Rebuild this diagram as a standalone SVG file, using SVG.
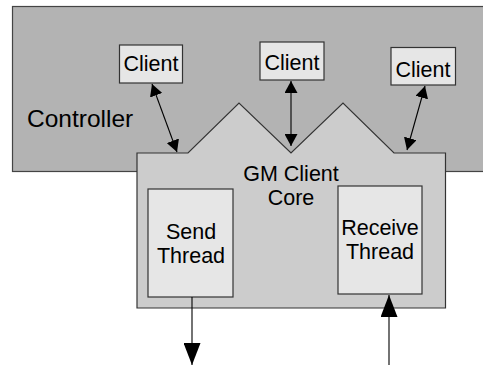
<svg xmlns="http://www.w3.org/2000/svg" width="483" height="365" viewBox="0 0 483 365">
  <style>
    .lbl { font-family: "Liberation Sans", Arial, sans-serif; fill: #000; font-size: 21.5px; }
    .mid { text-anchor: middle; }
    .box { fill: #e6e6e6; stroke: #333; stroke-width: 1.2; }
    .link { stroke: #000; stroke-width: 1.1; fill: none; }
  </style>
  <defs>
    <marker id="headSmall" viewBox="0 0 12 13" refX="12" refY="6.5" markerWidth="12" markerHeight="13" markerUnits="userSpaceOnUse" orient="auto-start-reverse">
      <path d="M0,0 L12,6.5 L0,13 z" fill="#000"/>
    </marker>
    <marker id="headLarge" viewBox="0 0 22 17" refX="22" refY="8.5" markerWidth="22" markerHeight="17" markerUnits="userSpaceOnUse" orient="auto">
      <path d="M0,0 L22,8.5 L0,17 z" fill="#000"/>
    </marker>
  </defs>

  <!-- Controller region -->
  <g id="controller">
    <rect x="12.5" y="6.5" width="480" height="165" fill="#b3b3b3" stroke="#444" stroke-width="1.2"/>
    <text class="lbl" x="27" y="127" style="font-size:24.5px">Controller</text>
  </g>

  <!-- GM Client Core with its two threads -->
  <g id="core">
    <polygon points="137,153 188,153 239,103 291,153 343,103 394,153 445.5,153 445.5,308 137,308" fill="#cccccc" stroke="#333" stroke-width="1.2"/>
    <text class="lbl mid" x="291" y="181">GM Client</text>
    <text class="lbl mid" x="291" y="205">Core</text>
  </g>

  <g id="send-thread">
    <rect class="box" x="148" y="189" width="85" height="108"/>
    <text class="lbl mid" x="191" y="239">Send</text>
    <text class="lbl mid" x="191" y="263">Thread</text>
  </g>

  <g id="receive-thread">
    <rect class="box" x="338" y="186" width="84" height="108"/>
    <text class="lbl mid" x="380" y="235">Receive</text>
    <text class="lbl mid" x="380" y="259">Thread</text>
  </g>

  <!-- Clients -->
  <g id="client-1">
    <rect class="box" x="119.5" y="45" width="63" height="38"/>
    <text class="lbl mid" x="151" y="71">Client</text>
  </g>
  <g id="client-2">
    <rect class="box" x="260" y="42" width="64" height="38"/>
    <text class="lbl mid" x="292" y="70">Client</text>
  </g>
  <g id="client-3">
    <rect class="box" x="391" y="47.5" width="64.5" height="37.5"/>
    <text class="lbl mid" x="423" y="77">Client</text>
  </g>

  <!-- Connectors -->
  <g id="connectors">
    <line class="link" x1="152" y1="84" x2="177" y2="152" marker-start="url(#headSmall)" marker-end="url(#headSmall)"/>
    <line class="link" x1="291" y1="81" x2="291" y2="146" marker-start="url(#headSmall)" marker-end="url(#headSmall)"/>
    <line class="link" x1="425" y1="86" x2="407" y2="150" marker-start="url(#headSmall)" marker-end="url(#headSmall)"/>
    <line class="link" x1="192" y1="297" x2="192" y2="365" marker-end="url(#headLarge)"/>
    <line class="link" x1="389" y1="365" x2="389" y2="295" marker-end="url(#headLarge)"/>
  </g>
</svg>
